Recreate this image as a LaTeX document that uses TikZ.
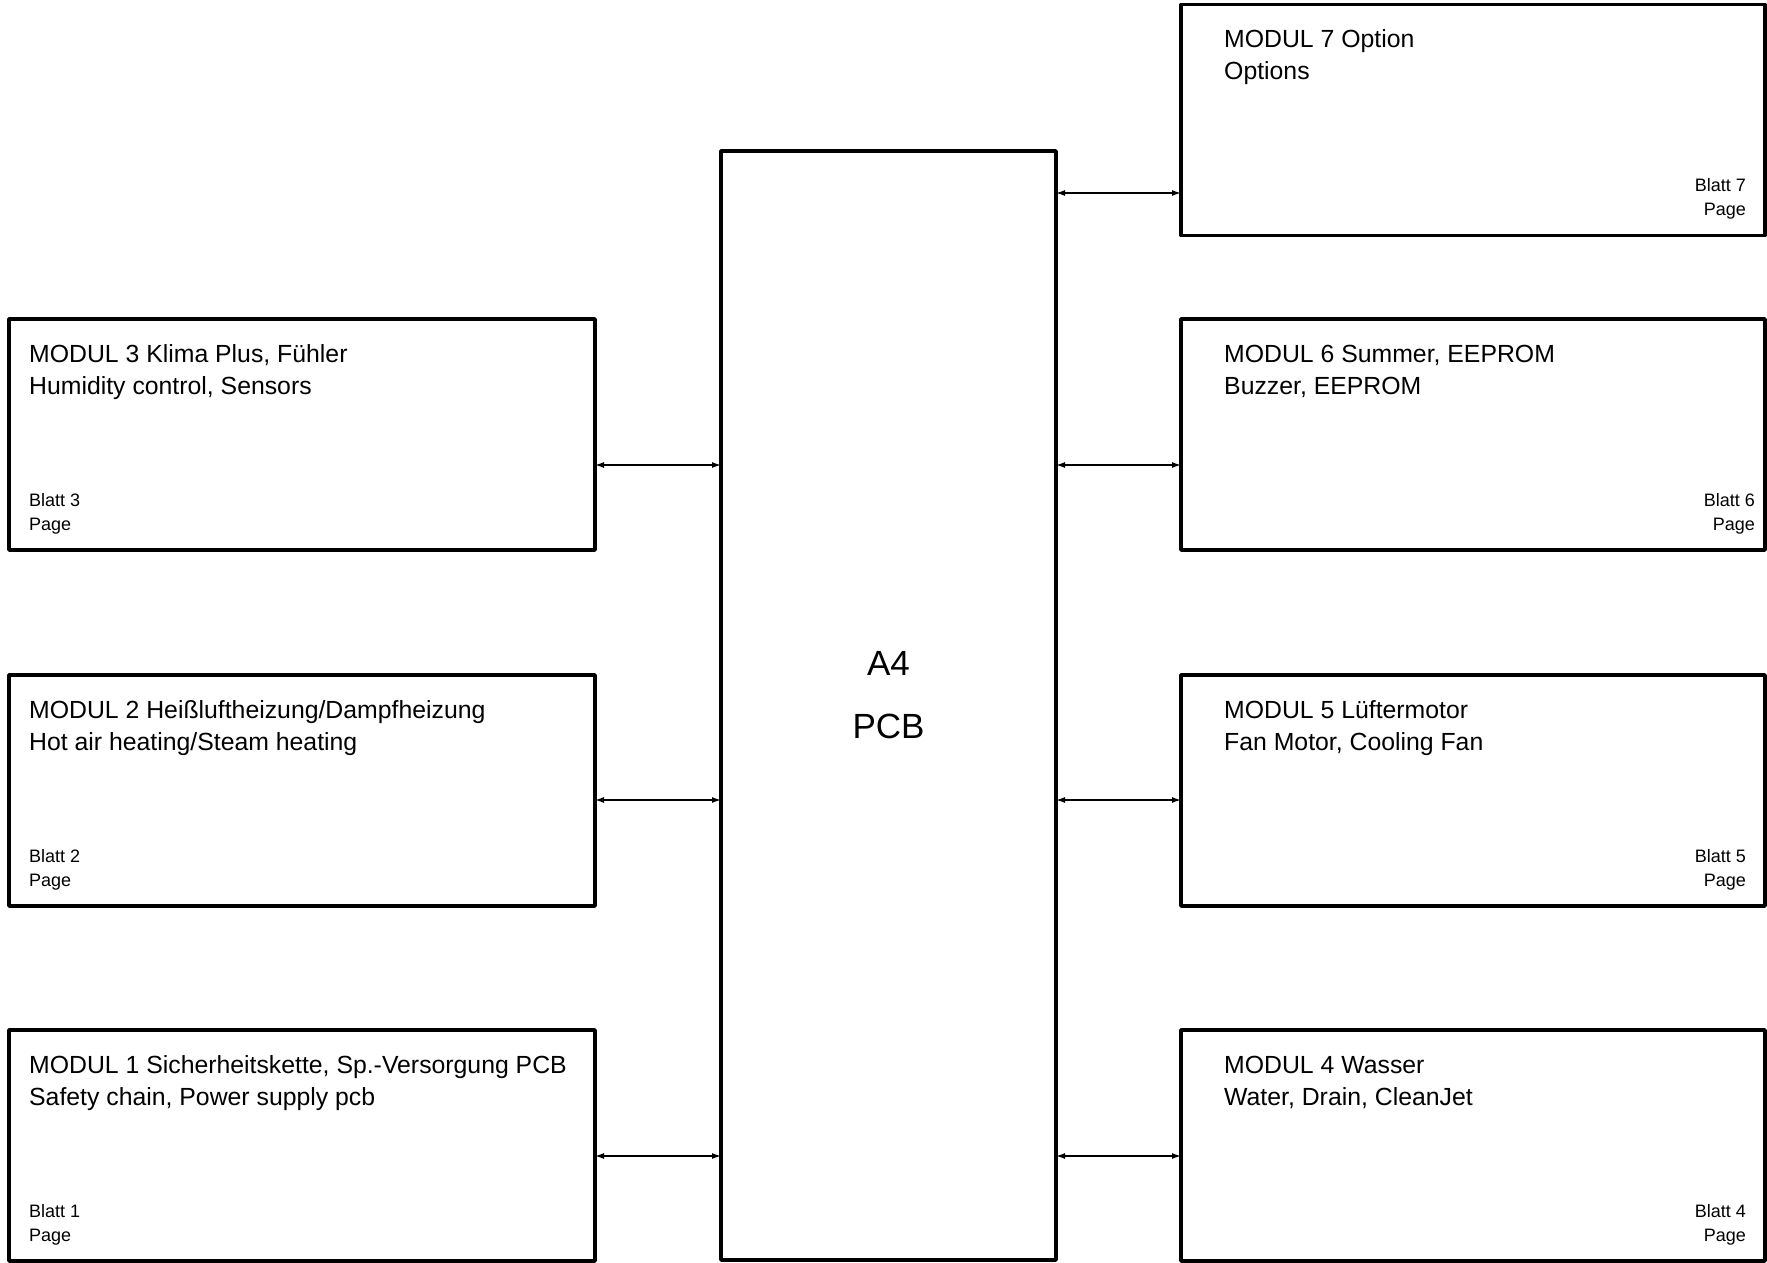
\documentclass[tikz,border=0pt]{standalone}
\usepackage{fontspec}
\setmainfont{Liberation Sans}
\usetikzlibrary{arrows.meta,calc}
\begin{document}
\begin{tikzpicture}[x=1pt,y=-1pt,
  modbox/.style={draw,line width=3.5pt,line join=round,rectangle,minimum width=586pt,minimum height=231pt,anchor=north west,inner sep=0pt,outer sep=0pt},
  ttl/.style={anchor=base west,inner sep=0pt,font=\fontsize{24.8}{29}\selectfont},
  pg/.style={anchor=base west,inner sep=0pt,font=\fontsize{18}{21}\selectfont},
  pgr/.style={anchor=base east,inner sep=0pt,font=\fontsize{18}{21}\selectfont},
  link/.style={line width=1.4pt,{Latex[length=9pt,width=6pt]}-{Latex[length=9pt,width=6pt]}}]
\useasboundingbox (0,0) rectangle (1767,1263);
% central PCB
\node[draw,line width=3.5pt,line join=round,rectangle,minimum width=335pt,minimum height=1109pt,anchor=north west,inner sep=0pt,outer sep=0pt] (pcb) at (721,151) {};
\node[anchor=base,inner sep=0pt,font=\fontsize{35}{40}\selectfont] (pcbt1) at (888.5,675.5) {A4};
\node[anchor=base,inner sep=0pt,font=\fontsize{35}{40}\selectfont] (pcbt2) at (888.5,738.5) {PCB};
% left modules
\node[modbox] (m3) at (9,319) {};
\node[modbox] (m2) at (9,675) {};
\node[modbox] (m1) at (9,1030) {};
% right modules
\node[modbox,minimum width=584pt] (m7) at (1181,4.5) {};
\node[modbox,minimum width=584pt] (m6) at (1181,319) {};
\node[modbox,minimum width=584pt] (m5) at (1181,675) {};
\node[modbox,minimum width=584pt] (m4) at (1181,1030) {};
% left texts
\node[ttl] (m3a) at ($(m3.north west)+(20,43)$) {MODUL 3 Klima Plus, Fühler};
\node[ttl] (m3b) at ($(m3.north west)+(20,75.5)$) {Humidity control, Sensors};
\node[pg] (m3c) at ($(m3.north west)+(20,187)$) {Blatt 3};
\node[pg] (m3d) at ($(m3.north west)+(20,211)$) {Page};
\node[ttl] (m2a) at ($(m2.north west)+(20,43)$) {MODUL 2 Heißluftheizung/Dampfheizung};
\node[ttl] (m2b) at ($(m2.north west)+(20,75.5)$) {Hot air heating/Steam heating};
\node[pg] (m2c) at ($(m2.north west)+(20,187)$) {Blatt 2};
\node[pg] (m2d) at ($(m2.north west)+(20,211)$) {Page};
\node[ttl] (m1a) at ($(m1.north west)+(20,43)$) {MODUL 1 Sicherheitskette, Sp.-Versorgung PCB};
\node[ttl] (m1b) at ($(m1.north west)+(20,75.5)$) {Safety chain, Power supply pcb};
\node[pg] (m1c) at ($(m1.north west)+(20,187)$) {Blatt 1};
\node[pg] (m1d) at ($(m1.north west)+(20,211)$) {Page};
% right texts
\node[ttl] (m7a) at ($(m7.north west)+(43,43)$) {MODUL 7 Option};
\node[ttl] (m7b) at ($(m7.north west)+(43,75.5)$) {Options};
\node[pgr] (m7c) at ($(m7.north east)+(-19,187)$) {Blatt 7};
\node[pgr] (m7d) at ($(m7.north east)+(-19,211)$) {Page};
\node[ttl] (m6a) at ($(m6.north west)+(43,43)$) {MODUL 6 Summer, EEPROM};
\node[ttl] (m6b) at ($(m6.north west)+(43,75.5)$) {Buzzer, EEPROM};
\node[pgr] (m6c) at ($(m6.north east)+(-10,187)$) {Blatt 6};
\node[pgr] (m6d) at ($(m6.north east)+(-10,211)$) {Page};
\node[ttl] (m5a) at ($(m5.north west)+(43,43)$) {MODUL 5 Lüftermotor};
\node[ttl] (m5b) at ($(m5.north west)+(43,75.5)$) {Fan Motor, Cooling Fan};
\node[pgr] (m5c) at ($(m5.north east)+(-19,187)$) {Blatt 5};
\node[pgr] (m5d) at ($(m5.north east)+(-19,211)$) {Page};
\node[ttl] (m4a) at ($(m4.north west)+(43,43)$) {MODUL 4 Wasser};
\node[ttl] (m4b) at ($(m4.north west)+(43,75.5)$) {Water, Drain, CleanJet};
\node[pgr] (m4c) at ($(m4.north east)+(-19,187)$) {Blatt 4};
\node[pgr] (m4d) at ($(m4.north east)+(-19,211)$) {Page};
% connectors
\draw[link] (pcb.east |- 0,193) -- (m7.west |- 0,193);
\draw[link] (m3.east |- 0,465) -- (pcb.west |- 0,465);
\draw[link] (pcb.east |- 0,465) -- (m6.west |- 0,465);
\draw[link] (m2.east |- 0,800) -- (pcb.west |- 0,800);
\draw[link] (pcb.east |- 0,800) -- (m5.west |- 0,800);
\draw[link] (m1.east |- 0,1156) -- (pcb.west |- 0,1156);
\draw[link] (pcb.east |- 0,1156) -- (m4.west |- 0,1156);
\end{tikzpicture}
\end{document}
